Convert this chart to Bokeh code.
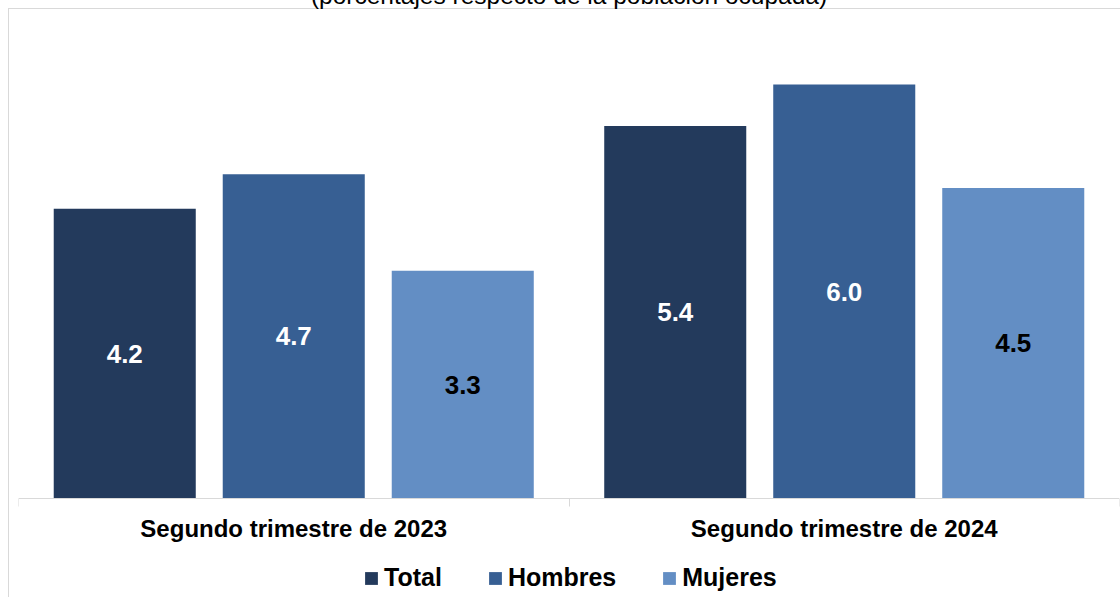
from bokeh.plotting import figure
from bokeh.models import ColumnDataSource, Range1d, FixedTicker, Legend, LegendItem, Title
from bokeh.core.properties import value
from bokeh.embed import file_html
from bokeh.resources import INLINE
import numpy as np

title_text = "(porcentajes respecto de la población ocupada)"
groups = ["Segundo trimestre de 2023", "Segundo trimestre de 2024"]
series = ["Total", "Hombres", "Mujeres"]
total = [4.2, 5.4]
hombres = [4.7, 6.0]
mujeres = [3.3, 4.5]
values = [total, hombres, mujeres]
colors = ["#233A5C", "#375F93", "#638EC4"]
label_colors = ["white", "white", "black"]
offsets = [-0.307, 0.0, 0.307]
bar_width = 0.258

FONT = "Liberation Sans"
GRID = "#d9d9d9"
PX_PER_UNIT = 69.0
Y_TOP = 7.0
Y_BOTTOM = -(597 - 498) / PX_PER_UNIT

p = figure(width=1112, height=629, x_range=Range1d(0, 2), y_range=Range1d(Y_BOTTOM, Y_TOP),
           output_backend="svg", toolbar_location=None, title=None,
           min_border_left=10, min_border_right=1, min_border_top=47, min_border_bottom=0)
p.styles = {
    "margin-top": "-32px",
    "margin-left": "8px",
    "background": (f"linear-gradient({GRID},{GRID}) 0 40px / 100% 1px no-repeat, "
                   f"linear-gradient({GRID},{GRID}) 0 40px / 1px 100% no-repeat"),
}
p.border_fill_color = None
p.background_fill_color = None
p.outline_line_color = None
p.xgrid.grid_line_color = None
p.ygrid.grid_line_color = None
p.yaxis.visible = False

p.add_layout(Title(text=title_text, align="center", text_font=FONT,
                   text_font_style="normal", text_font_size="24.5px",
                   text_color="black", standoff=13), "above")

centers = np.arange(len(groups)) + 0.5
items = []
for name, vals, col, lcol, off in zip(series, values, colors, label_colors, offsets):
    src = ColumnDataSource(dict(x=centers + off, top=vals, ymid=[v / 2 for v in vals],
                                lab=[f"{v:.1f}" for v in vals]))
    r = p.vbar(x="x", top="top", width=bar_width, source=src, fill_color=col, line_color=None)
    p.text(x="x", y="ymid", text="lab", source=src, text_color=lcol,
           text_font=value(FONT), text_font_style="bold", text_font_size="26px",
           text_align="center", text_baseline="middle")
    items.append(LegendItem(label=name, renderers=[r]))

ax = p.xaxis[0]
ax.fixed_location = 0
ax.ticker = FixedTicker(ticks=list(centers), minor_ticks=[0, 1, 2])
ax.major_label_overrides = {float(c): g for c, g in zip(centers, groups)}
ax.major_tick_line_color = None
ax.major_tick_out = 8
ax.major_tick_in = 0
ax.minor_tick_line_color = GRID
ax.minor_tick_out = 8
ax.minor_tick_in = 0
ax.axis_line_color = GRID
ax.major_label_text_font = FONT
ax.major_label_text_font_style = "bold"
ax.major_label_text_font_size = "24px"
ax.major_label_text_color = "black"
ax.major_label_standoff = 8

legend = Legend(items=items, orientation="horizontal", location=(345, 5),
                glyph_width=16, glyph_height=16, label_standoff=5, spacing=45,
                padding=0, margin=0, border_line_color=None, background_fill_alpha=0,
                label_text_font=FONT, label_text_font_style="bold",
                label_text_font_size="25px", label_text_color="black")
p.add_layout(legend, "center")

open("out.html", "w").write(file_html(p, INLINE))
